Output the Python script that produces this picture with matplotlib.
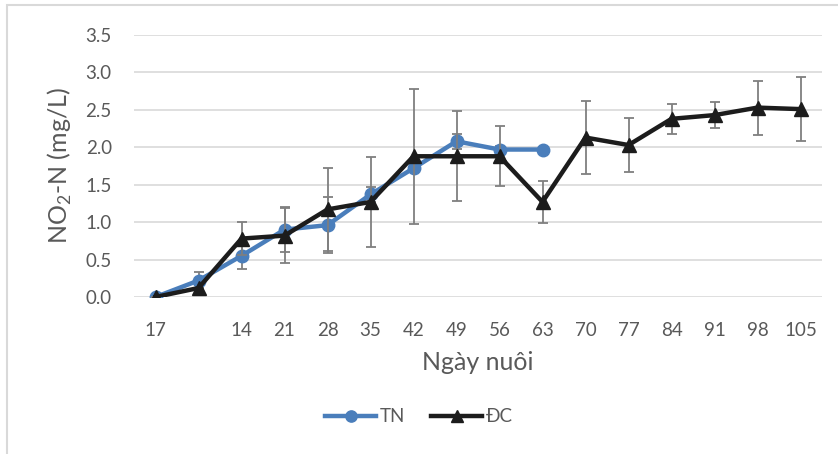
import matplotlib.pyplot as plt
from matplotlib.patches import Rectangle

# tick labels as printed on the category axis
days = ["17", "", "14", "21", "28", "35", "42", "49", "56", "63",
        "70", "77", "84", "91", "98", "105"]

# TN series (stops at day 63)
tn = [0.0, 0.22, 0.55, 0.90, 0.96, 1.37, 1.72, 2.08, 1.97, 1.97]
tn_err = [0.0, 0.11, 0.17, 0.30, 0.37, 0.10, 0.05, 0.10, 0.05, 0.0]

# DC series
dc = [0.0, 0.12, 0.78, 0.82, 1.17, 1.27, 1.88, 1.88, 1.88, 1.27,
      2.13, 2.03, 2.38, 2.43, 2.53, 2.51]
dc_err = [0.0, 0.0, 0.22, 0.37, 0.55, 0.60, 0.90, 0.60, 0.40, 0.28,
          0.49, 0.36, 0.20, 0.17, 0.36, 0.43]

plt.rcParams['font.family'] = ['Lato', 'DejaVu Sans']
plt.rcParams['mathtext.fontset'] = 'custom'
plt.rcParams['mathtext.rm'] = 'Lato'

text_color = "#595959"
blue = "#4a7ebb"
black = "#1c1c1c"
err_color = "#7f7f7f"

fig = plt.figure(figsize=(8.38, 4.54), dpi=100)
fig.patches.append(Rectangle((7 / 838, -0.1), 1.0, 1.1 - 5 / 454, transform=fig.transFigure,
                             fill=False, edgecolor="#d9d9d9", linewidth=1.5))
ax = fig.add_axes([134 / 838, 1 - 297 / 454, 688 / 838, 262 / 454])

x_tn = list(range(len(tn)))
x_dc = list(range(len(dc)))

ax.errorbar(x_tn, tn, yerr=tn_err, fmt="none", ecolor=err_color, elinewidth=1.3,
            capsize=3.8, capthick=1.3, zorder=3)
ax.plot(x_tn, tn, color=blue, linewidth=3.2, marker="o", markersize=9, label="TN", zorder=4)
ax.errorbar(x_dc, dc, yerr=dc_err, fmt="none", ecolor=err_color, elinewidth=1.3,
            capsize=3.8, capthick=1.3, zorder=5)
ax.plot(x_dc, dc, color=black, linewidth=3.2, marker="^", markersize=10, label="ĐC", zorder=6)

ax.set_xlim(-0.5, len(days) - 0.5)
ax.set_ylim(0, 3.5)
ax.set_yticks([0, 0.5, 1.0, 1.5, 2.0, 2.5, 3.0, 3.5])
ax.set_yticklabels(["0.0", "0.5", "1.0", "1.5", "2.0", "2.5", "3.0", "3.5"])
ax.set_xticks(range(len(days)))
ax.set_xticklabels(days)
ax.tick_params(axis="both", length=0, labelsize=13.5, labelcolor=text_color)
ax.tick_params(axis="x", pad=18)
ax.tick_params(axis="y", pad=16)
ax.grid(axis="y", color="#d9d9d9", linewidth=1.2)
ax.set_axisbelow(True)
for s in ax.spines.values():
    s.set_visible(False)

ax.set_xlabel("Ngày nuôi", fontsize=18, color=text_color, labelpad=9)
ax.set_ylabel(r"NO$_\mathregular{2}$-N (mg/L)", fontsize=18, color=text_color, labelpad=8)

leg = fig.legend(loc="center", bbox_to_anchor=(0.5, 1 - 417 / 454), ncol=2, frameon=False,
                 fontsize=13.5, handlelength=2.7, handletextpad=0.2, columnspacing=1.4,
                 markerscale=0.9)
for t in leg.get_texts():
    t.set_color(text_color)

plt.savefig("out.png", dpi=100)
